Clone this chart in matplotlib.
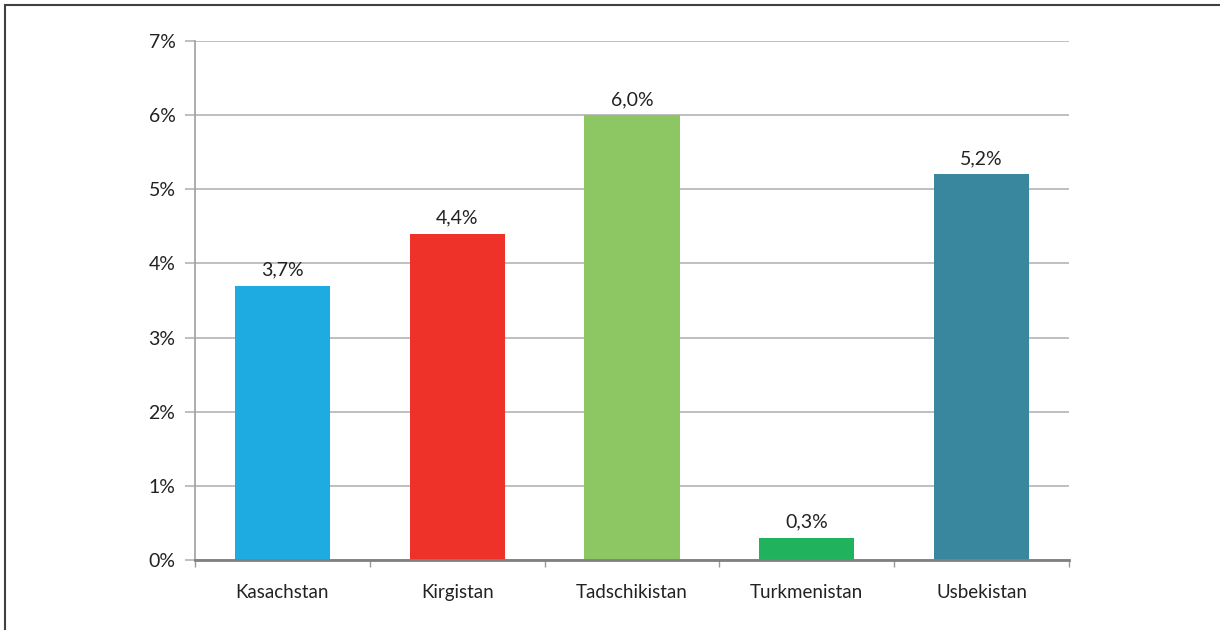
import matplotlib.pyplot as plt
from matplotlib.patches import Rectangle

countries = ['Kasachstan', 'Kirgistan', 'Tadschikistan', 'Turkmenistan', 'Usbekistan']
shares = [3.7, 4.4, 6.0, 0.3, 5.2]
colors = ['#1eabe2', '#ee322a', '#8cc764', '#20b25c', '#38879e']

plt.rcParams['font.family'] = ['Lato', 'DejaVu Sans']

fig = plt.figure(figsize=(12.2, 6.3), dpi=100)
ax = fig.add_axes([0.1598, 0.1111, 0.7164, 0.8238])

# frame around the figure
fig.patches.append(Rectangle((5 / 1220, -0.1), 1.2, 1.1 - 5 / 630, transform=fig.transFigure,
                             fill=False, edgecolor='#404040', linewidth=1.5))

x = range(len(countries))
ax.bar(x, shares, width=0.545, color=colors, zorder=3)

for i, v in enumerate(shares):
    ax.annotate(f'{v:.1f}%'.replace('.', ','), (i, v), xytext=(0, 5), textcoords='offset points',
                ha='center', va='bottom', fontsize=14, color='#222222')

ax.set_xlim(-0.5, len(countries) - 0.5)
ax.set_ylim(0, 7)
ax.set_yticks(range(8))
ax.set_yticklabels([f'{t}%' for t in range(8)], fontsize=14, color='#222222')
ax.yaxis.grid(True, color='#b4b4b4', linewidth=1.2, zorder=0)

ax.set_xticks(list(x))
ax.set_xticklabels(countries, fontsize=13.5, color='#222222')
ax.set_xticks([i - 0.5 for i in range(len(countries) + 1)], minor=True)
ax.tick_params(axis='x', which='major', length=0, pad=17)
ax.tick_params(axis='x', which='minor', length=5, color='#999999', width=1)
ax.tick_params(axis='y', length=7, color='#b4b4b4', width=1.2, pad=7)

for side in ['top', 'right']:
    ax.spines[side].set_visible(False)
ax.spines['left'].set_color('#a0a0a0')
ax.spines['left'].set_linewidth(1.2)
ax.spines['bottom'].set_color('#808080')
ax.spines['bottom'].set_linewidth(2)
ax.spines['bottom'].set_zorder(4)

fig.savefig('out.png', dpi=100)
